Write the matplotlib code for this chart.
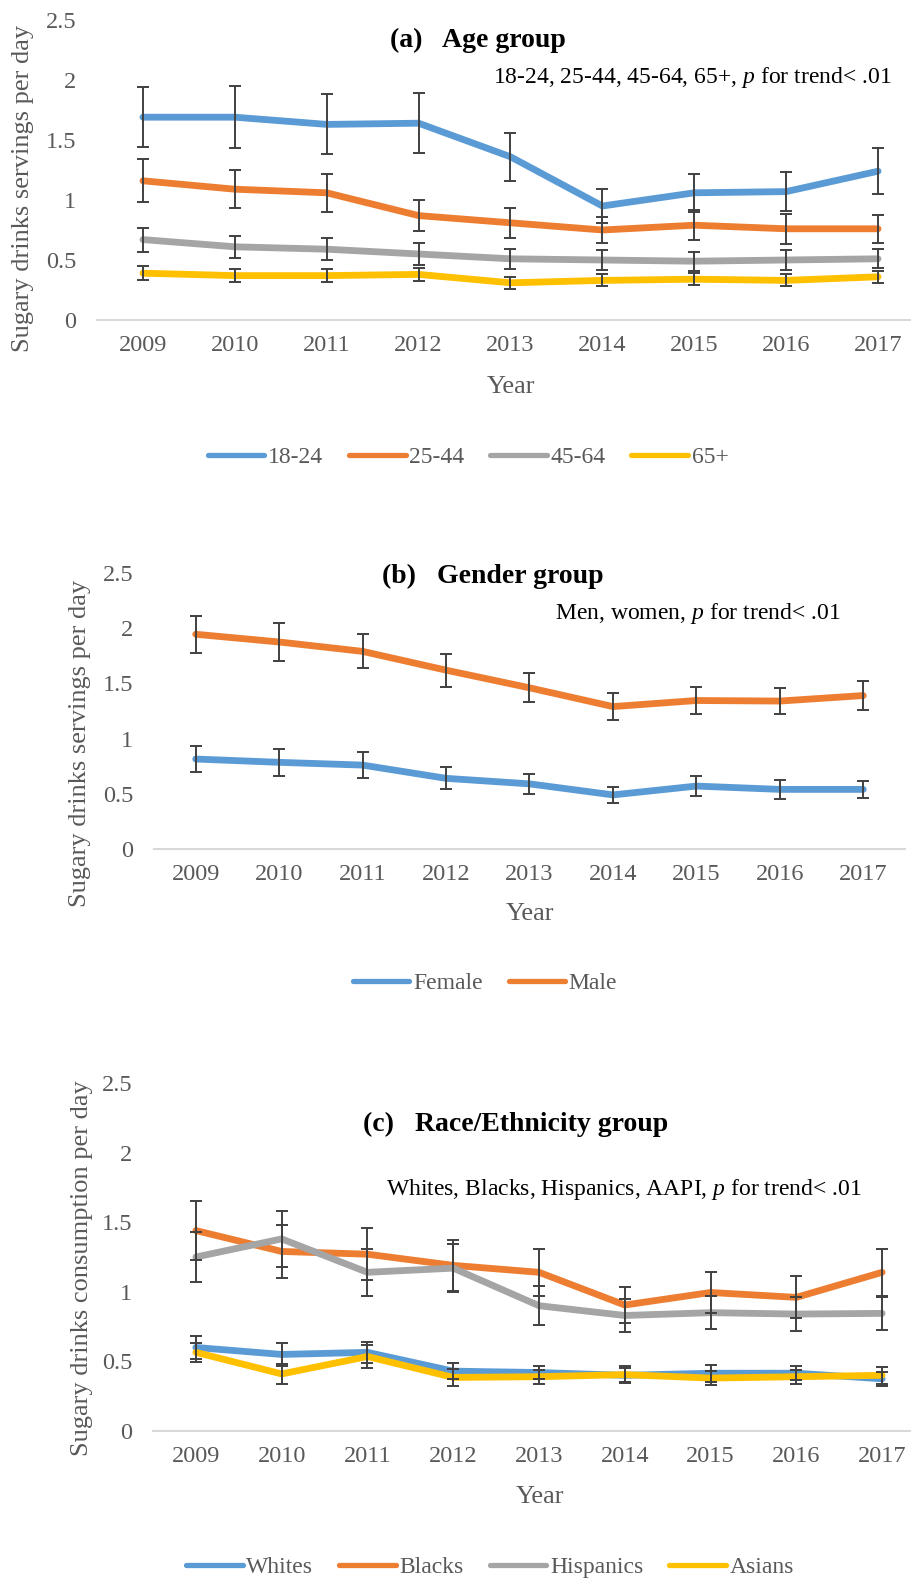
import matplotlib
matplotlib.use("Agg")
import matplotlib.pyplot as plt

plt.rcParams['font.family'] = ['Liberation Serif', 'DejaVu Serif']
plt.rcParams['mathtext.fontset'] = 'custom'
plt.rcParams['mathtext.it'] = 'Liberation Serif:italic'
plt.rcParams['mathtext.rm'] = 'Liberation Serif'

# ---------------- data ----------------
years = ['2009', '2010', '2011', '2012', '2013', '2014', '2015', '2016', '2017']
y_ticks = [0, 0.5, 1, 1.5, 2, 2.5]
y_tick_labels = ['0', '0.5', '1', '1.5', '2', '2.5']

# (a) age group
age_labels = ['18-24', '25-44', '45-64', '65+']
age_18_24 = [1.69, 1.69, 1.63, 1.64, 1.36, 0.95, 1.06, 1.07, 1.24]
age_18_24_err = [0.25, 0.26, 0.25, 0.25, 0.20, 0.14, 0.16, 0.16, 0.19]
age_25_44 = [1.16, 1.09, 1.06, 0.87, 0.81, 0.75, 0.79, 0.76, 0.76]
age_25_44_err = [0.18, 0.16, 0.16, 0.13, 0.125, 0.11, 0.125, 0.125, 0.115]
age_45_64 = [0.67, 0.61, 0.59, 0.55, 0.51, 0.50, 0.49, 0.50, 0.51]
age_45_64_err = [0.10, 0.09, 0.09, 0.09, 0.085, 0.08, 0.08, 0.08, 0.08]
age_65 = [0.39, 0.37, 0.37, 0.38, 0.31, 0.33, 0.34, 0.33, 0.36]
age_65_err = [0.06, 0.055, 0.055, 0.055, 0.05, 0.05, 0.05, 0.05, 0.05]

# (b) gender group
gender_labels = ['Female', 'Male']
female = [0.815, 0.785, 0.76, 0.64, 0.59, 0.49, 0.57, 0.54, 0.54]
female_err = [0.12, 0.12, 0.115, 0.10, 0.09, 0.075, 0.09, 0.085, 0.08]
male = [1.945, 1.875, 1.79, 1.62, 1.46, 1.29, 1.345, 1.34, 1.39]
male_err = [0.17, 0.17, 0.155, 0.15, 0.13, 0.12, 0.12, 0.12, 0.13]

# (c) race/ethnicity group
race_labels = ['Whites', 'Blacks', 'Hispanics', 'Asians']
whites = [0.60, 0.55, 0.565, 0.43, 0.42, 0.40, 0.415, 0.415, 0.375]
whites_err = [0.08, 0.08, 0.075, 0.06, 0.05, 0.05, 0.06, 0.05, 0.05]
blacks = [1.44, 1.29, 1.27, 1.19, 1.14, 0.905, 0.995, 0.96, 1.14]
blacks_err = [0.21, 0.19, 0.185, 0.185, 0.17, 0.13, 0.15, 0.15, 0.17]
hispanics = [1.25, 1.38, 1.14, 1.17, 0.90, 0.83, 0.85, 0.84, 0.845]
hispanics_err = [0.18, 0.20, 0.17, 0.17, 0.14, 0.12, 0.12, 0.125, 0.12]
asians = [0.565, 0.41, 0.535, 0.385, 0.39, 0.405, 0.38, 0.39, 0.40]
asians_err = [0.07, 0.07, 0.08, 0.06, 0.05, 0.06, 0.05, 0.05, 0.06]

# ---------------- style ----------------
BLUE, ORANGE, GRAY, GOLD = '#5B9BD5', '#ED7D31', '#A5A5A5', '#FFC000'
TEXT_GRAY = '#595959'
W, H = 912, 1578

fig = plt.figure(figsize=(W / 100, H / 100), dpi=100)


def fx(px):
    return px / W


def fy(py):
    return 1 - py / H


def panel(left, right, zero_y, top_y, series, ylabel, ylabel_pos,
          title, title_pos, note, note_pos, xlabel_pos, legend_pos):
    ax = fig.add_axes([fx(left), fy(zero_y), (right - left) / W, (zero_y - top_y) / H])
    xs = list(range(len(years)))
    handles = []
    for name, vals, errs, color in series:
        ln, = ax.plot(xs, vals, color=color, lw=4.9, label=name,
                      solid_capstyle='round', solid_joinstyle='round', zorder=2)
        ax.errorbar(xs, vals, yerr=errs, fmt='none', ecolor='#404040',
                    elinewidth=1.4, capsize=4, capthick=1.4, zorder=3)
        handles.append(ln)
    ax.set_xlim(-0.5, len(years) - 0.5)
    ax.set_ylim(0, 2.5)
    ax.set_xticks(xs)
    ax.set_xticklabels(years)
    ax.set_yticks(y_ticks)
    ax.set_yticklabels(y_tick_labels)
    for s in ('top', 'right', 'left'):
        ax.spines[s].set_visible(False)
    ax.spines['bottom'].set_color('#D9D9D9')
    ax.spines['bottom'].set_linewidth(1.5)
    ax.tick_params(axis='both', length=0, labelsize=17.5, labelcolor=TEXT_GRAY)
    ax.tick_params(axis='x', pad=11)
    ax.tick_params(axis='y', pad=15)
    ax.patch.set_alpha(0)

    fig.text(fx(ylabel_pos[0]), fy(ylabel_pos[1]), ylabel, rotation=90,
             ha='center', va='center', fontsize=19, color=TEXT_GRAY)
    fig.text(fx(xlabel_pos[0]), fy(xlabel_pos[1]), 'Year',
             ha='center', va='center', fontsize=19, color=TEXT_GRAY)
    fig.text(fx(title_pos[0]), fy(title_pos[1]), title,
             ha='center', va='center', fontsize=20, fontweight='bold', color='black')
    fig.text(fx(note_pos[0]), fy(note_pos[1]), note,
             ha='right', va='center', fontsize=17, color='black')
    leg = fig.legend(handles=handles, loc='center',
                     bbox_to_anchor=(fx(legend_pos[0]), fy(legend_pos[1])),
                     ncol=len(handles), frameon=False, fontsize=17,
                     handlelength=2.4, handletextpad=0.15, columnspacing=1.1,
                     labelcolor=TEXT_GRAY)
    for h in leg.legend_handles:
        h.set_linewidth(3.8)
    return ax


panel(97, 924, 320, 20,
      [(age_labels[0], age_18_24, age_18_24_err, BLUE),
       (age_labels[1], age_25_44, age_25_44_err, ORANGE),
       (age_labels[2], age_45_64, age_45_64_err, GRAY),
       (age_labels[3], age_65, age_65_err, GOLD)],
      'Sugary drinks servings per day', (23, 188),
      '(a)   Age group', (478, 40),
      '18-24, 25-44, 45-64, 65+, $p$ for trend< .01', (892, 78),
      (511, 387), (468, 457))

panel(154, 905, 849, 573,
      [(gender_labels[0], female, female_err, BLUE),
       (gender_labels[1], male, male_err, ORANGE)],
      'Sugary drinks servings per day', (80, 743),
      '(b)   Gender group', (493, 576),
      'Men, women, $p$ for trend< .01', (841, 613),
      (530, 914), (485, 983))

panel(153, 925, 1431, 1083,
      [(race_labels[0], whites, whites_err, BLUE),
       (race_labels[1], blacks, blacks_err, ORANGE),
       (race_labels[2], hispanics, hispanics_err, GRAY),
       (race_labels[3], asians, asians_err, GOLD)],
      'Sugary drinks consumption per day', (82, 1268),
      '(c)   Race/Ethnicity group', (516, 1124),
      'Whites, Blacks, Hispanics, AAPI, $p$ for trend< .01', (862, 1190),
      (540, 1497), (490, 1567))

fig.savefig('out.png', dpi=100, facecolor='white')
